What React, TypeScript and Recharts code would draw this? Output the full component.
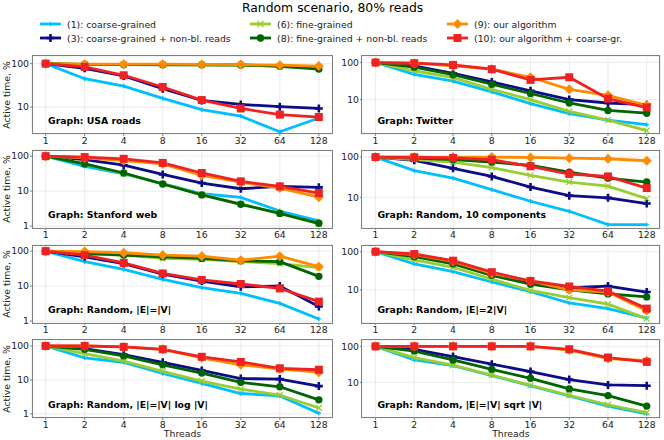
import React from 'react';
import { LineChart, Line, XAxis, YAxis, CartesianGrid } from 'recharts';

const THREADS = [1, 2, 4, 8, 16, 32, 64, 128];

// series order: (1), (3), (6), (8), (9), (10)
const USA_ROADS = [
  [100, 45, 30.5, 15.8, 8.7, 6.2, 2.7, 5.6],
  [100, 78, 52, 26.5, 14.2, 11.5, 10.2, 9.3],
  [100, 96, 95, 95, 94, 93, 88, 80],
  [100, 96, 95, 94, 94, 93, 87, 75],
  [100, 97, 97, 97, 96, 95, 92, 88],
  [100, 84, 54, 29, 14.5, 9.3, 6.7, 5.9],
];
const TWITTER = [
  [100, 48, 31.6, 16.2, 7.8, 4.2, 2.8, 2.1],
  [100, 81, 51, 30, 17.3, 10, 8.1, 7.3],
  [100, 60, 39, 19, 10, 4.8, 2.8, 1.45],
  [100, 75, 47, 26, 14.6, 8.1, 5.1, 4.3],
  [100, 96, 81, 66, 40, 19, 13, 7],
  [100, 96, 86, 66, 34, 40, 10.6, 6.1],
];
const STANFORD = [
  [100, 51, 31, 16.3, 8.4, 6.6, 2.7, 1.4],
  [100, 80, 55, 30, 17, 11.7, 13.6, 12.8],
  [100, 60, 32, 16, 8, 4.3, 2.3, 1.15],
  [100, 60, 33, 16, 7.8, 4.2, 2.3, 1.2],
  [100, 90, 75, 60, 28, 18, 12.2, 6.7],
  [100, 94, 84, 64, 33, 19, 13.6, 8.8],
];
const RANDOM_10 = [
  [100, 46, 30, 15.5, 8, 4.5, 2.1, 2.1],
  [100, 83, 52.5, 33, 18, 11, 9.7, 7],
  [100, 86, 75, 55, 35, 24, 19, 9.3],
  [100, 95, 86, 75, 62, 42, 30, 24],
  [100, 100, 100, 100, 98, 94, 91, 81],
  [100, 99, 95, 86, 59, 38, 33, 17],
];
const RANDOM_EV = [
  [100, 50, 30, 15.5, 9, 6.2, 3.2, 1.15],
  [100, 69, 44, 22, 14, 9.6, 10, 2.6],
  [100, 82, 77, 62, 58, 50, 44, 34],
  [100, 86, 77, 69, 62, 53, 50, 19],
  [100, 97, 90, 77, 72, 55, 72, 36],
  [100, 77, 46, 23, 15, 11.5, 8.6, 3.6],
];
const RANDOM_2EV = [
  [100, 48, 30, 16, 8.9, 4.5, 3.2, 1.8],
  [100, 79, 53, 26, 15, 11.3, 12.5, 8.7],
  [100, 61, 39, 19, 9.6, 6.2, 4.2, 1.75],
  [100, 74, 48, 24, 14, 10, 7.8, 6.5],
  [100, 84, 56, 27, 17, 10, 8.7, 2.8],
  [100, 87, 58, 29, 17, 12.2, 9.2, 3.2],
];
const RANDOM_LOG = [
  [100, 45, 33, 15.5, 7.9, 4, 3.4, 1.05],
  [100, 84, 56, 33, 19, 11, 10.6, 6.6],
  [100, 60, 36, 18, 9.3, 5.4, 3.6, 1.5],
  [100, 80, 51, 28, 16, 8.5, 6.3, 2.6],
  [100, 100, 94, 80, 45, 28, 21, 17],
  [100, 100, 94, 80, 48, 34, 22, 20],
];
const RANDOM_SQRT = [
  [100, 42, 29, 15.5, 8, 4.2, 2.2, 1.35],
  [100, 83, 52, 32, 20, 12, 8.5, 8.1],
  [100, 49, 30, 16, 8.3, 4.4, 2.4, 1.45],
  [100, 74, 42, 23, 13, 6.6, 4.3, 2.2],
  [100, 100, 100, 100, 100, 79, 46, 40],
  [100, 100, 100, 100, 100, 83, 49, 37],
];

const SERIES = [
  { name: '(1): coarse-grained', color: '#00BFFF', marker: 'plusSmall' },
  { name: '(3): coarse-grained + non-bl. reads', color: '#0C0C88', marker: 'plus' },
  { name: '(6): fine-grained', color: '#9ACD32', marker: 'x' },
  { name: '(8): fine-grained + non-bl. reads', color: '#006400', marker: 'circle' },
  { name: '(9): our algorithm', color: '#FF8C00', marker: 'diamond' },
  { name: '(10): our algorithm + coarse-gr.', color: '#EE2222', marker: 'square' },
];

const PANELS = [
  { title: 'Graph: USA roads', values: USA_ROADS, lo: 2.4 },
  { title: 'Graph: Twitter', values: TWITTER, lo: 1.18 },
  { title: 'Graph: Stanford web', values: STANFORD, lo: 0.88 },
  { title: 'Graph: Random, 10 components', values: RANDOM_10, lo: 1.73 },
  { title: 'Graph: Random, |E|=|V|', values: RANDOM_EV, lo: 0.88 },
  { title: 'Graph: Random, |E|=2|V|', values: RANDOM_2EV, lo: 1.34 },
  { title: 'Graph: Random, |E|=|V| log |V|', values: RANDOM_LOG, lo: 0.76 },
  { title: 'Graph: Random, |E|=|V| sqrt |V|', values: RANDOM_SQRT, lo: 1.03 },
];

const Y_HI = 150;
const X_DOMAIN = [Math.pow(2, -0.35), Math.pow(2, 7.35)];
const COL_X = [32.3, 361.7];
const COL_W = [300.5, 298.3];
const ROW_Y = [55.5, 150, 245, 339.5];
const ROW_H = 78;
const FONT = "'DejaVu Sans', sans-serif";
const TEXT = '#222222';

function Marker({ kind, cx, cy, color }: { kind: string; cx: number; cy: number; color: string }) {
  switch (kind) {
    case 'plusSmall':
      return <path d={`M${cx - 2.2},${cy}H${cx + 2.2}M${cx},${cy - 2.2}V${cy + 2.2}`} stroke={color} strokeWidth={1.3} />;
    case 'plus':
      return <path d={`M${cx - 4},${cy}H${cx + 4}M${cx},${cy - 4}V${cy + 4}`} stroke={color} strokeWidth={2.6} />;
    case 'x':
      return <path d={`M${cx - 3},${cy - 3}L${cx + 3},${cy + 3}M${cx - 3},${cy + 3}L${cx + 3},${cy - 3}`} stroke={color} strokeWidth={1.2} />;
    case 'circle':
      return <circle cx={cx} cy={cy} r={3.7} fill={color} />;
    case 'diamond':
      return <path d={`M${cx},${cy - 5}L${cx + 5},${cy}L${cx},${cy + 5}L${cx - 5},${cy}Z`} fill={color} />;
    default:
      return <rect x={cx - 4} y={cy - 4} width={8} height={8} fill={color} />;
  }
}

function Panel({ idx }: { idx: number }) {
  const p = PANELS[idx];
  const col = idx % 2;
  const row = Math.floor(idx / 2);
  const fx = COL_X[col];
  const fy = ROW_Y[row];
  const w = COL_W[col];
  const left = 35;
  const data = THREADS.map((t, i) => {
    const r: Record<string, number> = { t };
    p.values.forEach((s, k) => (r['s' + k] = s[i]));
    return r;
  });
  const yTicks = [1, 10, 100].filter((v) => v >= p.lo && v <= Y_HI);
  return (
    <>
      <div style={{ position: 'absolute', left: fx - left, top: fy - 5 }}>
        <LineChart width={w + left + 5} height={ROW_H + 25} data={data} margin={{ top: 5, right: 5, bottom: 0, left: 0 }}>
          <CartesianGrid stroke="#e6e6e6" strokeWidth={0.8} />
          <XAxis
            dataKey="t"
            type="number"
            scale="log"
            domain={X_DOMAIN}
            ticks={THREADS}
            allowDataOverflow
            height={20}
            axisLine={false}
            tickLine={{ stroke: '#808080' }}
            tickSize={2}
            tickMargin={1}
            tick={{ fontSize: 9.3, fill: TEXT }}
            interval={0}
          />
          <YAxis
            type="number"
            scale="log"
            domain={[p.lo, Y_HI]}
            ticks={yTicks}
            allowDataOverflow
            width={left}
            axisLine={false}
            tickLine={{ stroke: '#808080' }}
            tickSize={2}
            tickMargin={1}
            tick={{ fontSize: 9.3, fill: TEXT }}
            tickFormatter={(v) => String(v)}
            interval={0}
          />
          {SERIES.map((s, k) => (
            <Line
              key={s.name}
              dataKey={'s' + k}
              type="linear"
              stroke={s.color}
              strokeWidth={2.8}
              isAnimationActive={false}
              activeDot={false}
              dot={(d: any) => (
                <g key={`${k}-${d.index}`}>
                  <Marker kind={s.marker} cx={d.cx} cy={d.cy} color={s.color} />
                </g>
              )}
            />
          ))}
        </LineChart>
      </div>
      <div
        style={{
          position: 'absolute',
          left: fx - 0.5,
          top: fy - 0.5,
          width: w + 1,
          height: ROW_H + 1,
          border: '1px solid #808080',
          boxSizing: 'border-box',
          pointerEvents: 'none',
        }}
      />
      <div
        style={{
          position: 'absolute',
          left: fx + 15.7,
          top: fy + ROW_H - 13,
          transform: 'translateY(-50%)',
          fontSize: 9.3,
          lineHeight: 1,
          fontWeight: 'bold',
          color: '#000',
          whiteSpace: 'nowrap',
        }}
      >
        {p.title}
      </div>
      {col === 0 && (
        <div
          style={{
            position: 'absolute',
            left: 6.5,
            top: fy + ROW_H / 2,
            transform: 'translate(-50%, -50%) rotate(-90deg)',
            fontSize: 9.3,
            lineHeight: 1,
            color: TEXT,
            whiteSpace: 'nowrap',
          }}
        >
          Active time, %
        </div>
      )}
      {row === 3 && (
        <div
          style={{
            position: 'absolute',
            left: fx + w / 2,
            top: 433.5,
            transform: 'translate(-50%, -50%)',
            fontSize: 9.3,
            lineHeight: 1,
            color: TEXT,
            whiteSpace: 'nowrap',
          }}
        >
          Threads
        </div>
      )}
    </>
  );
}

const LEGEND_X = [40, 250, 447];
const LEGEND_Y = [24.3, 38.3];

function LegendItem({ k }: { k: number }) {
  const s = SERIES[k];
  const col = Math.floor(k / 2);
  const row = k % 2;
  return (
    <div
      style={{
        position: 'absolute',
        left: LEGEND_X[col],
        top: LEGEND_Y[row],
        transform: 'translateY(-50%)',
        display: 'flex',
        alignItems: 'center',
        fontSize: 9.3,
        lineHeight: 1,
        color: TEXT,
        whiteSpace: 'nowrap',
      }}
    >
      <svg width={21} height={12} style={{ marginRight: 6 }}>
        <line x1={0} y1={6} x2={21} y2={6} stroke={s.color} strokeWidth={2.8} />
        <Marker kind={s.marker} cx={10.5} cy={6} color={s.color} />
      </svg>
      <span>{s.name}</span>
    </div>
  );
}

export default function App() {
  return (
    <div
      style={{
        position: 'absolute',
        left: 0,
        top: 0,
        width: 664,
        height: 440,
        background: '#fff',
        fontFamily: FONT,
        overflow: 'hidden',
      }}
    >
      <div
        style={{
          position: 'absolute',
          left: 332.6,
          top: 8.3,
          transform: 'translate(-50%, -50%)',
          fontSize: 12.4,
          lineHeight: 1,
          color: '#000',
          whiteSpace: 'nowrap',
        }}
      >
        Random scenario, 80% reads
      </div>
      {SERIES.map((s, k) => (
        <LegendItem key={s.name} k={k} />
      ))}
      {PANELS.map((p, i) => (
        <Panel key={p.title} idx={i} />
      ))}
    </div>
  );
}
